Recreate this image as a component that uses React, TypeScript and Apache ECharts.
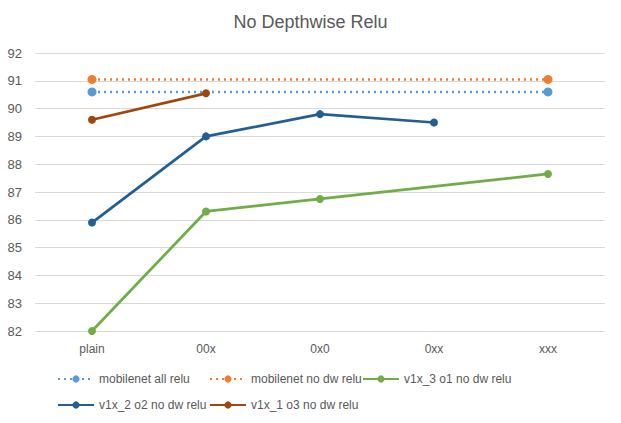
import React, { useEffect, useRef } from "react";
import * as echarts from "echarts";

const categories = ["plain", "00x", "0x0", "0xx", "xxx"];
const mobilenetAllRelu = [90.6, null, null, null, 90.6];
const mobilenetNoDwRelu = [91.05, null, null, null, 91.05];
const v1x3o1 = [82.0, 86.3, 86.75, null, 87.65];
const v1x2o2 = [85.9, 89.0, 89.8, 89.5, null];
const v1x1o3 = [89.6, 90.55, null, null, null];

const seriesNames = [
  "mobilenet all relu",
  "mobilenet no dw relu",
  "v1x_3 o1 no dw relu",
  "v1x_2 o2 no dw relu",
  "v1x_1 o3 no dw relu",
];

const FONT = "'Liberation Sans', Arial, sans-serif";

export default function App() {
  const ref = useRef<HTMLDivElement>(null);
  useEffect(() => {
    const chart = echarts.init(ref.current!, null, { renderer: "svg" });
    const mk = (name: string, data: (number | null)[], color: string, dotted: boolean) => ({
      name,
      type: "line",
      data,
      connectNulls: true,
      symbol: "circle",
      symbolSize: dotted ? 9 : 8,
      itemStyle: { color },
      lineStyle: { color, width: dotted ? 2.5 : 2.75, type: dotted ? [2, 4] : "solid" },
    });
    const legendSlots = [
      [57, 373],
      [209, 373],
      [362, 373],
      [57, 399],
      [209, 399],
    ];
    const legends = seriesNames.map((name, i) => ({
      left: legendSlots[i][0],
      top: legendSlots[i][1],
      itemWidth: 36,
      itemHeight: 9,
      padding: 0,
      textStyle: { fontFamily: FONT, fontSize: 12, color: "#595959" },
      data: [name],
    }));
    chart.setOption({
      animation: false,
      title: {
        text: "No Depthwise Relu",
        left: "center",
        top: 8,
        textStyle: { fontFamily: FONT, fontSize: 18, fontWeight: "normal", color: "#595959" },
      },
      grid: { left: 35, right: 16, top: 53, bottom: 92 },
      xAxis: {
        type: "category",
        data: categories,
        axisLine: { show: false },
        axisTick: { show: false },
        axisLabel: { fontFamily: FONT, fontSize: 12, color: "#595959", margin: 12 },
      },
      yAxis: {
        type: "value",
        min: 82,
        max: 92,
        interval: 1,
        axisLabel: { fontFamily: FONT, fontSize: 13, color: "#595959", margin: 13 },
        splitLine: { lineStyle: { color: "#d9d9d9", width: 1 } },
      },
      legend: legends,
      series: [
        mk(seriesNames[0], mobilenetAllRelu, "#5B9BD5", true),
        mk(seriesNames[1], mobilenetNoDwRelu, "#ED7D31", true),
        mk(seriesNames[2], v1x3o1, "#70AD47", false),
        mk(seriesNames[3], v1x2o2, "#255E91", false),
        mk(seriesNames[4], v1x1o3, "#9E480E", false),
      ],
    });
    return () => chart.dispose();
  }, []);
  return <div ref={ref} style={{ width: 621, height: 423, position: "absolute", left: 0, top: 0 }} />;
}
